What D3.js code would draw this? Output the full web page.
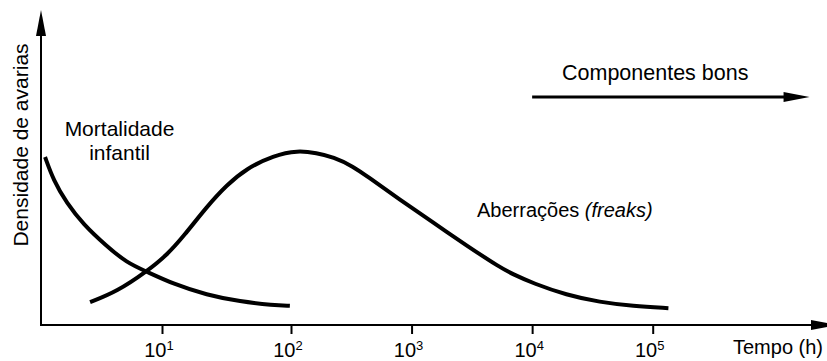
<!DOCTYPE html>
<html>
<head>
<meta charset="utf-8">
<script src="https://cdn.jsdelivr.net/npm/d3@7"></script>
<style>
  html, body { margin: 0; padding: 0; background: #fff; }
  svg { display: block; font-family: "Liberation Sans", Arial, Helvetica, sans-serif; }
</style>
</head>
<body>
<svg id="chart" width="827" height="361"></svg>
<script>
// ---- Data ----
// Time in hours (log axis), density in relative units (0-100)
const infantTime    = [1.24, 1.44, 1.82, 2.45, 3.72, 5.32, 7.6, 12.2, 22.2, 40.3, 73, 98];
const infantDensity = [56, 48.3, 40.7, 33.6, 26.3, 20.8, 17.8, 13.7, 10, 7.8, 6.6, 6.4];

const freakTime    = [2.77, 4.46, 7.6, 10.9, 14.6, 22.2, 31.8, 45.4, 73, 114, 163, 224, 330, 430, 800, 1503, 2858, 5400, 6950, 10180, 19240, 36380, 68700, 135000];
const freakDensity = [7.6, 11.1, 17.8, 23.3, 29.4, 39.4, 46.7, 52.2, 56.5, 58.2, 57.3, 56, 52.8, 49.5, 41.8, 34.2, 26.5, 19.2, 16.9, 13.9, 10, 7.6, 6.3, 5.6];

const tickValues    = [10, 100, 1000, 10000, 100000];
const tickBase      = "10";
const tickExponents = ["1", "2", "3", "4", "5"];

const goodArrowTime = [10000, 2000000];

const labels = {
  yAxis: "Densidade de avarias",
  xAxis: "Tempo (h)",
  infant: ["Mortalidade", "infantil"],
  freaks: "Aberrações ",
  freaksItalic: "(freaks)",
  good: "Componentes bons"
};

// ---- Layout ----
const svg = d3.select("#chart");
const originX = 41, originY = 325;

const x = d3.scaleLog().domain([10, 100, 100000]).range([162, 291, 652.7]);
const y = d3.scaleLinear().domain([0, 100]).range([originY, 25]);

const ink = "#000";

function arrowHead(tipX, tipY, dir, len, half) {
  let pts;
  if (dir === "right") pts = [[tipX, tipY], [tipX - len, tipY - half], [tipX - len, tipY + half]];
  else pts = [[tipX, tipY], [tipX - half, tipY + len], [tipX + half, tipY + len]];
  svg.append("path").attr("d", "M" + pts.map(p => p.join(",")).join("L") + "Z").attr("fill", ink);
}

// Y axis
svg.append("line").attr("x1", originX).attr("y1", originY + 1).attr("x2", originX).attr("y2", 34)
  .attr("stroke", ink).attr("stroke-width", 2);
arrowHead(originX, 10, "up", 26, 5);

// X axis line
svg.append("line").attr("x1", originX - 1).attr("y1", originY).attr("x2", 815).attr("y2", originY)
  .attr("stroke", ink).attr("stroke-width", 2);
arrowHead(837, originY, "right", 26, 5);

// X axis ticks via d3 axis
const axisG = svg.append("g").attr("transform", `translate(0,${originY})`)
  .call(d3.axisBottom(x).tickValues(tickValues).tickSize(9).tickFormat(() => ""));
axisG.select(".domain").remove();
axisG.selectAll(".tick line").attr("stroke", ink).attr("stroke-width", 2);
axisG.selectAll(".tick text").remove();

// Tick labels with superscripts
const tl = svg.append("g");
tickValues.forEach((v, i) => {
  const t = tl.append("text")
    .attr("x", x(v) - 3).attr("y", 357)
    .attr("text-anchor", "middle")
    .attr("font-size", 20).attr("fill", ink);
  t.append("tspan").text(tickBase);
  t.append("tspan").attr("font-size", 13).attr("dy", -6.6).text(tickExponents[i]);
});

// Axis titles
svg.append("text").attr("x", 823).attr("y", 354).attr("text-anchor", "end")
  .attr("font-size", 20).attr("fill", ink).text(labels.xAxis);

svg.append("text").attr("transform", "translate(28,145) rotate(-90)")
  .attr("text-anchor", "middle").attr("font-size", 21).attr("fill", ink).text(labels.yAxis);

// Curves
const line = d3.line().x(d => x(d[0])).y(d => y(d[1])).curve(d3.curveBasis);

svg.append("path")
  .attr("d", line(infantTime.map((t, i) => [t, infantDensity[i]])))
  .attr("fill", "none").attr("stroke", ink).attr("stroke-width", 4);

svg.append("path")
  .attr("d", line(freakTime.map((t, i) => [t, freakDensity[i]])))
  .attr("fill", "none").attr("stroke", ink).attr("stroke-width", 4);

// Labels
const inf = svg.append("text").attr("text-anchor", "middle").attr("font-size", 21).attr("fill", ink);
inf.append("tspan").attr("x", 119.5).attr("y", 136).text(labels.infant[0]);
inf.append("tspan").attr("x", 119.5).attr("y", 160).text(labels.infant[1]);

const fr = svg.append("text").attr("x", 477).attr("y", 217).attr("font-size", 20).attr("fill", ink);
fr.append("tspan").text(labels.freaks);
fr.append("tspan").attr("font-style", "italic").text(labels.freaksItalic);

svg.append("text").attr("x", 562).attr("y", 80).attr("font-size", 21.5).attr("fill", ink).text(labels.good);

// "Componentes bons" arrow
const gx0 = x(goodArrowTime[0]), gx1 = x(goodArrowTime[1]);
svg.append("line").attr("x1", gx0).attr("y1", 97).attr("x2", gx1 - 20).attr("y2", 97)
  .attr("stroke", ink).attr("stroke-width", 3);
arrowHead(gx1, 97, "right", 26, 5);
</script>
</body>
</html>
